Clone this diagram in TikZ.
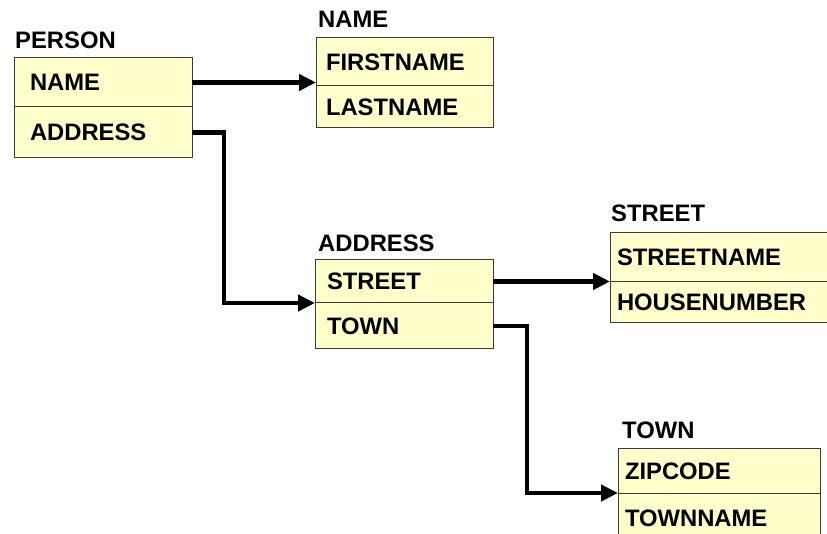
\documentclass[tikz,border=0pt]{standalone}
\usepackage{fontspec}
\setmainfont{Liberation Sans}
\usetikzlibrary{arrows.meta, positioning}
\definecolor{tablefill}{HTML}{FFFFCC}
\definecolor{tableline}{HTML}{3A3A3A}

\begin{document}
\begin{tikzpicture}[
    x=1pt, y=-1pt,
    field/.style 2 args={draw=tableline, line width=1pt, fill=tablefill, text width=#1, minimum height=#2, inner ysep=0pt, outer sep=0pt, align=left, text height=17pt, text depth=-1pt, font=\bfseries\fontsize{23.8pt}{28pt}\selectfont},
    title/.style={inner sep=0pt, font=\bfseries\fontsize{23.8pt}{28pt}\selectfont},
    link/.style={-{Triangle[length=17pt, width=16pt]}, line width=4.5pt},
    node distance=0pt
]
    \useasboundingbox (0,0) rectangle (827,534);

    % PERSON table
    \node[field={146pt}{49pt}, inner xsep=16pt, anchor=north west] (person-name) at (14,58) {NAME};
    \node[field={146pt}{51pt}, inner xsep=16pt, below=of person-name] (person-address) {ADDRESS};
    \node[title, above right=9pt and 1pt of person-name.north west] (person-title) {PERSON};

    % NAME table
    \node[field={157pt}{48pt}, inner xsep=10pt, anchor=north west] (name-first) at (316,38) {FIRSTNAME};
    \node[field={157pt}{42pt}, inner xsep=10pt, below=of name-first] (name-last) {LASTNAME};
    \node[title, above right=10pt and 2pt of name-first.north west] (name-title) {NAME};

    % ADDRESS table
    \node[field={154pt}{43pt}, inner xsep=12pt, anchor=north west] (address-street) at (315,260) {STREET};
    \node[field={154pt}{46pt}, inner xsep=12pt, below=of address-street] (address-town) {TOWN};
    \node[title, above right=8pt and 3pt of address-street.north west] (address-title) {ADDRESS};

    % STREET table
    \node[field={216pt}{49pt}, inner xsep=7pt, anchor=north west] (street-name) at (610,233) {STREETNAME};
    \node[field={216pt}{41pt}, inner xsep=7pt, below=of street-name] (street-number) {HOUSENUMBER};
    \node[title, above right=11pt and 1pt of street-name.north west] (street-title) {STREET};

    % TOWN table
    \node[field={188pt}{45pt}, inner xsep=7pt, anchor=north west] (town-zip) at (618,448) {ZIPCODE};
    \node[field={188pt}{50pt}, inner xsep=7pt, below=of town-zip] (town-name) {TOWNNAME};
    \node[title, above right=9pt and 4pt of town-zip.north west] (town-title) {TOWN};

    % Links
    \draw[link] (person-name.east) -- (name-first.south west |- person-name.east);
    \draw[link] (person-address.east) -- ++(32,0) |- (address-street.south west);
    \draw[link] (address-street.east) -- (street-name.south west |- address-street.east);
    \draw[link] (address-town.east) -- ++(34,0) |- (town-zip.south west);

\end{tikzpicture}
\end{document}
